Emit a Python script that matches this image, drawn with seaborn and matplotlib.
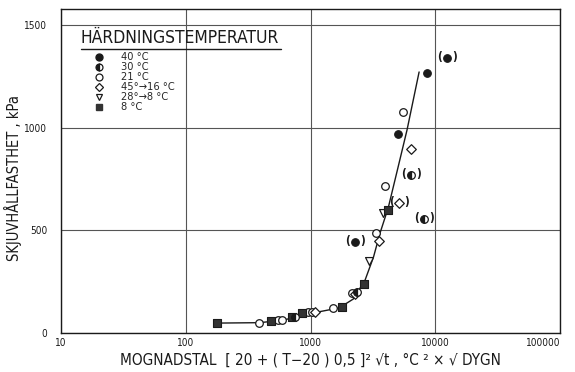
import matplotlib
matplotlib.use("Agg")
import matplotlib.pyplot as plt
import seaborn as sns

# ---- data ----
t40_x = [8590, 5010]
t40_y = [1266, 969]
t40p_x = [12400, 2275]          # parenthesised points
t40p_y = [1340, 443]

t30_x = [752, 2360]
t30_y = [76, 200]
t30p_x = [6400, 8130]
t30p_y = [770, 555]

t21_x = [386, 548, 591, 955, 1028, 1515, 2150, 3350, 3955, 5510]
t21_y = [49, 63, 63, 102, 102, 122, 195, 487, 716, 1076]

d45_x = [1087, 2260, 3550, 6400]
d45_y = [104, 192, 448, 896]
d45p_x = [5120]
d45p_y = [633]

t28_x = [2950, 3800]
t28_y = [351, 584]

t8_x = [178, 482, 711, 855, 1787, 2690, 4180]
t8_y = [49, 58, 78, 97, 127, 239, 599]

curve_x = [181, 390, 600, 1000, 1700, 2200, 2740, 3200, 3610, 4200, 5000, 5940, 7420]
curve_y = [48, 50, 62, 95, 122, 165, 258, 370, 487, 610, 800, 989, 1271]

legend_labels = ["40 °C", "30 °C", "21 °C", "45°→16 °C", "28°→8 °C", "8 °C"]
x_ticks = [10, 100, 1000, 10000, 100000]
x_ticklabels = ["10", "100", "1000", "10000", "100000"]
y_ticks = [0, 500, 1000, 1500]

sns.set_theme(style="white")
plt.rcParams['font.family'] = ['DejaVu Sans']
plt.rcParams['font.stretch'] = 'condensed'

fig = plt.figure(figsize=(5.75, 3.72), dpi=100)
ax = fig.add_axes([0.106, 0.105, 0.868, 0.871])

ink = "#1a1a1a"
ms = 5.5

# curve
sns.lineplot(x=curve_x, y=curve_y, ax=ax, color=ink, lw=1.0, sort=False,
             estimator=None)

# markers
sns.scatterplot(x=t40_x + t40p_x, y=t40_y + t40p_y, ax=ax, marker="o",
                color=ink, edgecolor=ink, s=30, linewidth=0.8, zorder=4)
sns.scatterplot(x=t21_x, y=t21_y, ax=ax, marker="o", facecolor="white",
                edgecolor=ink, s=30, linewidth=0.9, zorder=4)
sns.scatterplot(x=d45_x + d45p_x, y=d45_y + d45p_y, ax=ax, marker="D",
                facecolor="white", edgecolor=ink, s=24, linewidth=0.9, zorder=4)
sns.scatterplot(x=t28_x, y=t28_y, ax=ax, marker="v", facecolor="white",
                edgecolor=ink, s=32, linewidth=0.9, zorder=4)
sns.scatterplot(x=t8_x, y=t8_y, ax=ax, marker="s", color="#333333",
                edgecolor=ink, s=30, linewidth=0.8, zorder=4)
ax.plot(t30_x + t30p_x, t30_y + t30p_y, linestyle="", marker="o",
        fillstyle="left", color=ink, markerfacecoloralt="white",
        markeredgecolor=ink, ms=ms, mew=0.9, zorder=4)

# parentheses around uncertain points
for px, py in zip(t40p_x + t30p_x + d45p_x, t40p_y + t30p_y + d45p_y):
    ax.annotate("(", (px, py), xytext=(-5.5, 0), textcoords="offset points",
                ha="center", va="center", fontsize=8.5, color=ink,
                fontweight="bold")
    ax.annotate(")", (px, py), xytext=(5.5, 0), textcoords="offset points",
                ha="center", va="center", fontsize=8.5, color=ink,
                fontweight="bold")

ax.set_xscale("log")
ax.set_xlim(10, 100000)
ax.set_ylim(0, 1578)
ax.set_xticks(x_ticks)
ax.set_xticklabels(x_ticklabels)
ax.set_yticks(y_ticks)
ax.minorticks_off()
ax.tick_params(axis="both", length=0, labelsize=7.2, colors=ink)
ax.tick_params(axis="x", pad=4)
ax.tick_params(axis="y", pad=10)
xt = ax.get_xticklabels()
for lbl in xt:
    lbl.set_horizontalalignment("center")
xt[-1].set_horizontalalignment("right")

ax.grid(True, which="major", color="#555555", lw=0.8)
for s in ax.spines.values():
    s.set_color(ink)
    s.set_linewidth(1.0)

ax.set_xlabel("MOGNADSTAL  [ 20 + ( T−20 ) 0,5 ]² √t , °C ² × √ DYGN",
              fontsize=11, color=ink, labelpad=3)
ax.set_ylabel("SKJUVHÅLLFASTHET , kPa", fontsize=10.5, color=ink)
ax.yaxis.set_label_coords(-0.079, 0.478)

# legend
handles = [
    plt.Line2D([], [], ls="", marker="o", color=ink, ms=5),
    plt.Line2D([], [], ls="", marker="o", fillstyle="left", color=ink,
               markerfacecoloralt="white", ms=5, mew=0.9),
    plt.Line2D([], [], ls="", marker="o", mfc="white", mec=ink, ms=5, mew=0.9),
    plt.Line2D([], [], ls="", marker="D", mfc="white", mec=ink, ms=4.5, mew=0.9),
    plt.Line2D([], [], ls="", marker="v", mfc="white", mec=ink, ms=5, mew=0.9),
    plt.Line2D([], [], ls="", marker="s", color="#333333", ms=5),
]
leg = ax.legend(handles, legend_labels, loc="upper left",
                bbox_to_anchor=(0.066, 0.866), frameon=False, fontsize=7.9,
                handletextpad=1.5, labelspacing=0.0, borderaxespad=0,
                borderpad=0, handlelength=1.0)
ax.text(0.04, 0.884, "HÄRDNINGSTEMPERATUR", transform=ax.transAxes,
        fontsize=12.5, color=ink, va="bottom", ha="left")
ax.plot([0.04, 0.44], [0.877, 0.877], transform=ax.transAxes, color=ink,
        lw=1.0, clip_on=False)

fig.savefig("out.png", dpi=100, facecolor="white")
